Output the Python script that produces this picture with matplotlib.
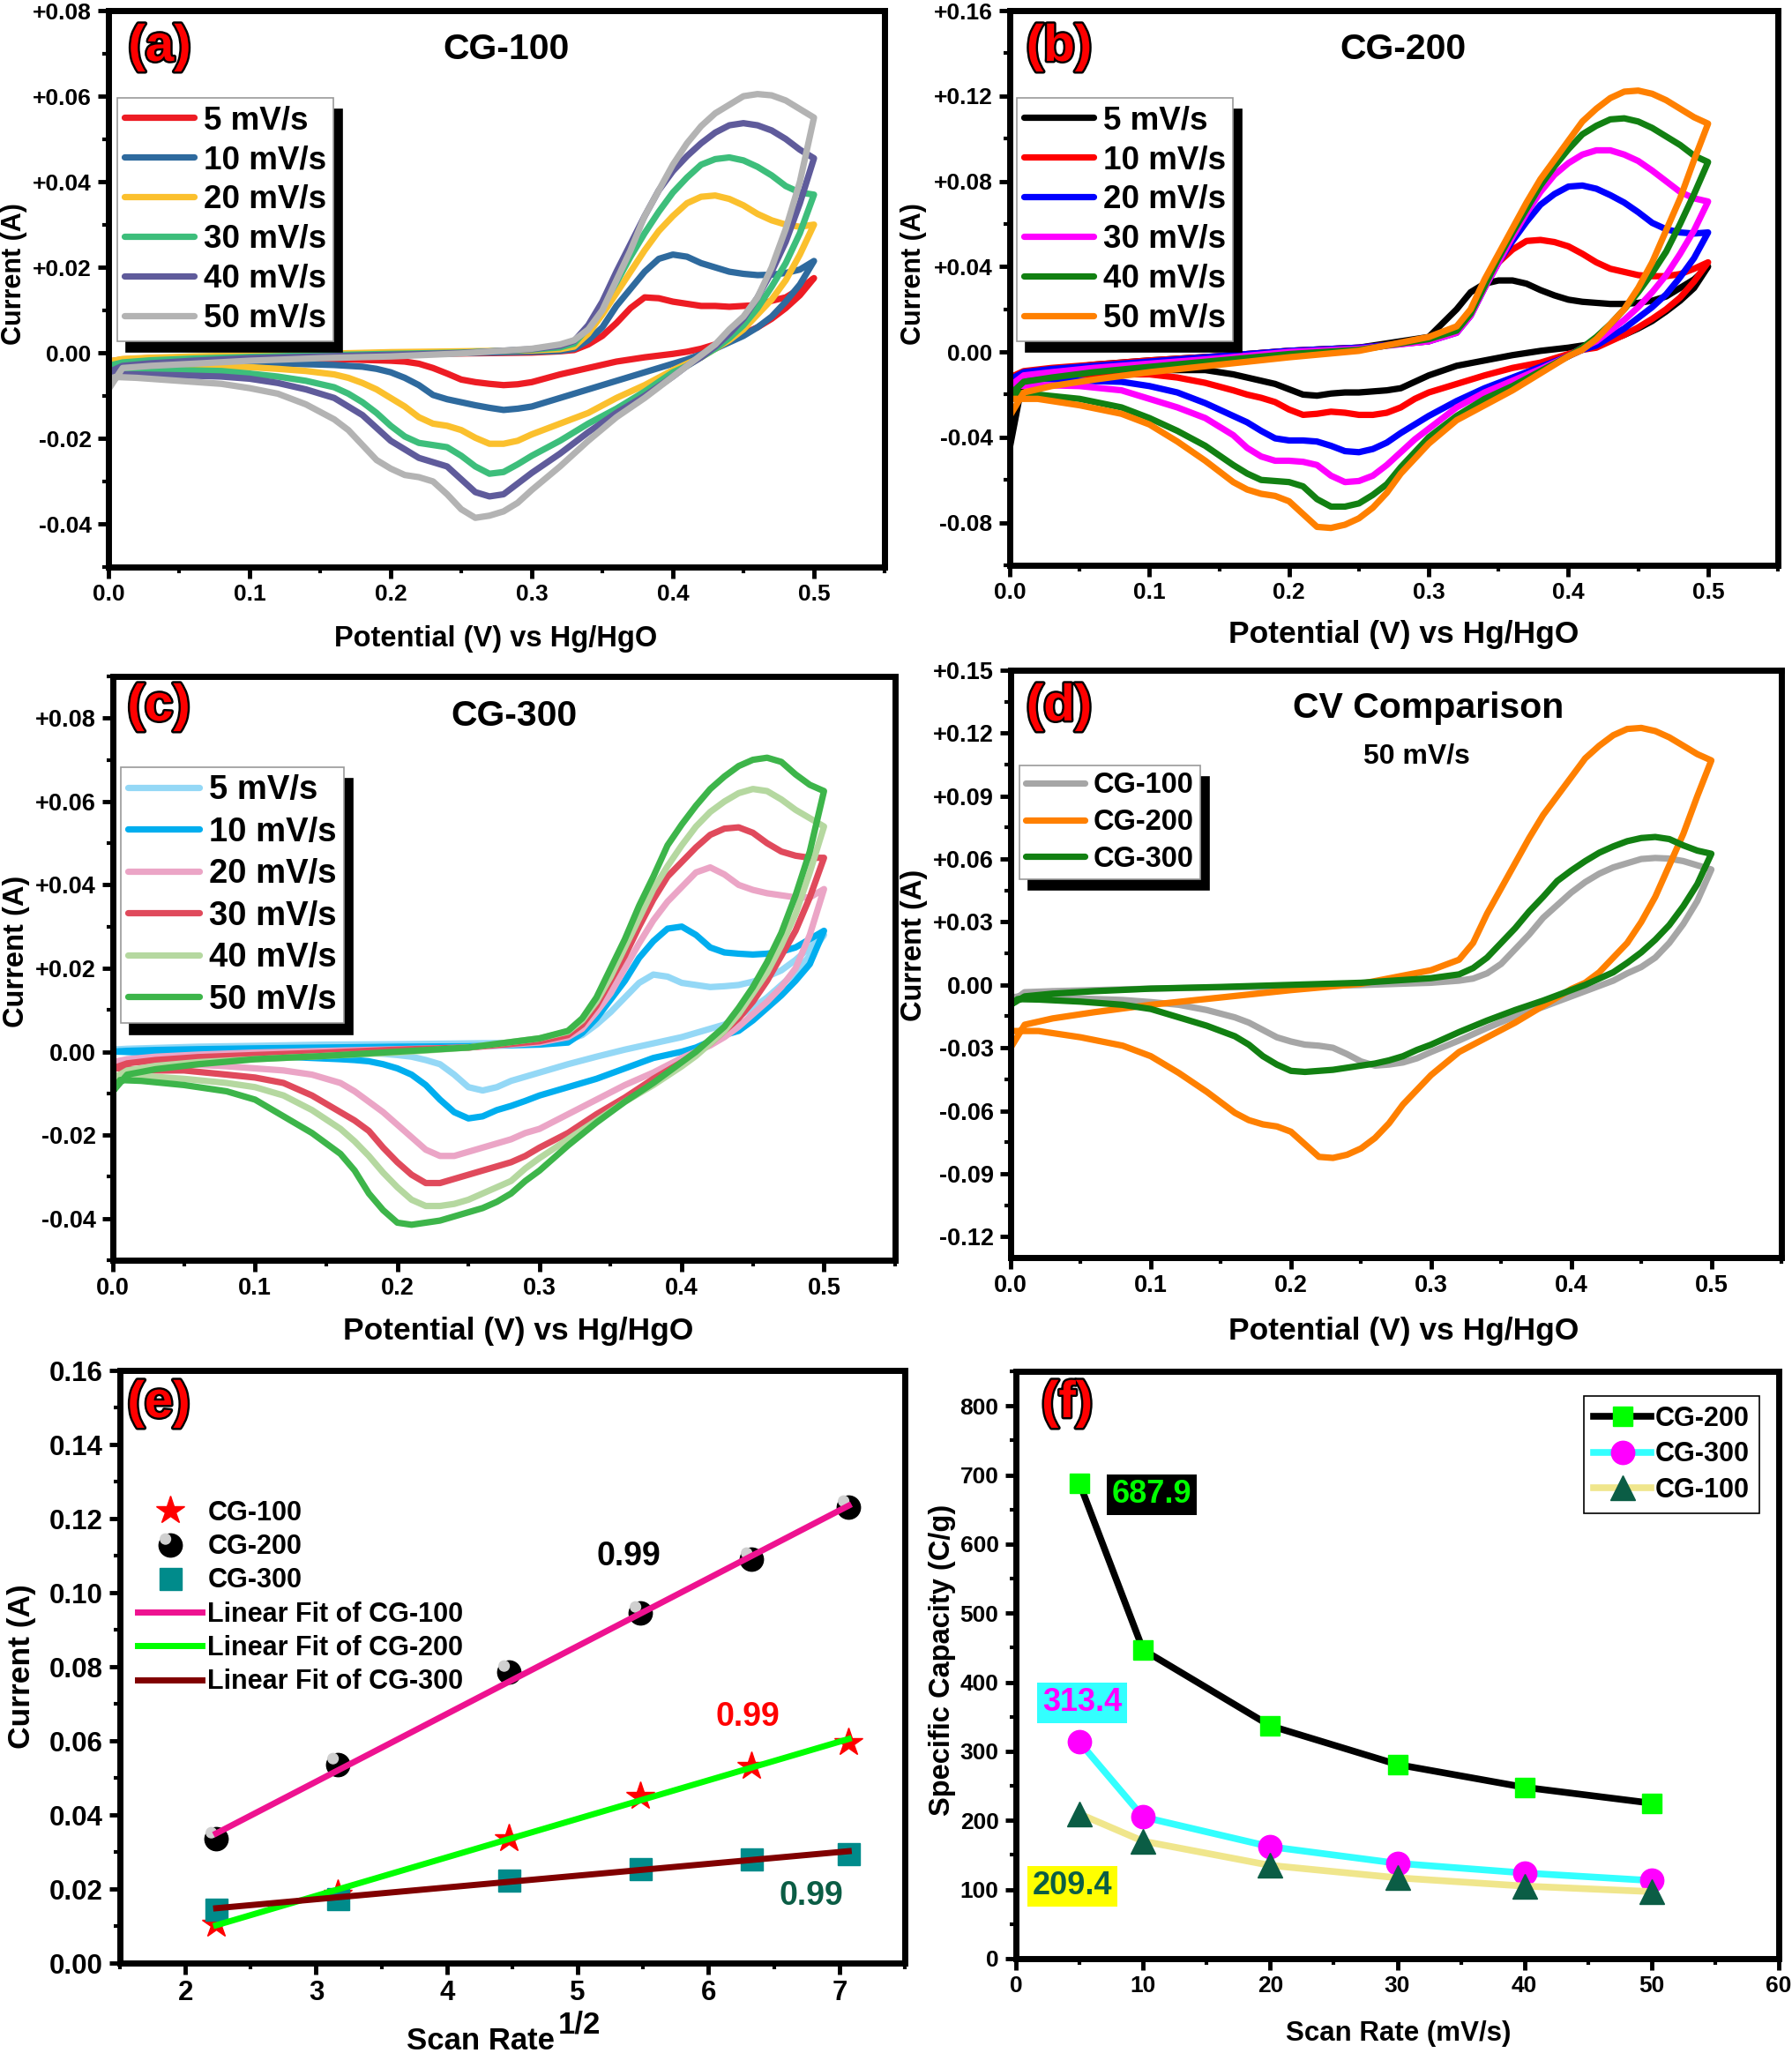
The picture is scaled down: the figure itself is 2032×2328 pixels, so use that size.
import matplotlib
matplotlib.use("Agg")
import matplotlib.pyplot as plt
import matplotlib.patheffects as pe
from matplotlib.legend_handler import HandlerTuple
from matplotlib.path import Path
from matplotlib.ticker import FuncFormatter, MultipleLocator

W, H = 2032, 2328

# potential grids of the two branches of every CV loop
x_up = [0, .01, .03, .06, .1, .15, .2, .25, .3, .32, .33, .34, .35, .36, .37, .38, .39, .40, .41, .42, .43, .44, .45, .46, .47, .48, .49, .50]
x_dn = [.5, .49, .48, .47, .46, .45, .44, .43, .42, .41, .40, .38, .36, .34, .32, .30, .29, .28, .27, .26, .25, .24, .23, .22, .21, .20, .19, .18, .17, .16, .14, .12, .10, .08, .05, .02, .005, 0]

# CG-100
a5_up = [-.002, -.0015, -.0012, -.001, -.0008, -.0005, -.0003, -.0001, .0001, .0004, .0007, .002, .004, .007, .0105, .013, .0128, .012, .0115, .011, .011, .0108, .011, .0112, .0122, .013, .015, .0175]
a5_dn = [.0175, .0135, .0105, .008, .006, .0045, .003, .002, .001, .0003, -.0002, -.001, -.002, -.0035, -.005, -.0068, -.0073, -.0075, -.0072, -.0068, -.0062, -.0048, -.0035, -.0025, -.002, -.0018, -.0017, -.0016, -.0015, -.0015, -.0014, -.0013, -.0012, -.0012, -.0012, -.0015, -.002, -.002]
a10_up = [-.0022, -.0017, -.0013, -.001, -.0008, -.0005, -.0002, 0, .0003, .0005, .001, .003, .006, .011, .015, .019, .022, .023, .0225, .021, .02, .019, .0185, .0182, .0183, .0187, .0195, .0215]
a10_dn = [.0215, .016, .012, .0085, .006, .004, .0025, .001, -.0003, -.0015, -.0025, -.0045, -.0065, -.0085, -.0105, -.0125, -.013, -.0133, -.0128, -.0122, -.0115, -.0108, -.0098, -.0075, -.0058, -.0045, -.0037, -.0032, -.003, -.0028, -.0026, -.0025, -.0025, -.0024, -.0024, -.0026, -.003, -.0032]
a20_up = [-.002, -.0014, -.0011, -.0008, -.0005, -.0002, .0002, .0004, .0006, .0009, .0015, .0045, .009, .014, .019, .024, .0285, .032, .035, .0365, .0368, .036, .0345, .0325, .031, .03, .0295, .03]
a20_dn = [.03, .023, .017, .0125, .009, .0055, .003, .001, -.001, -.0025, -.004, -.0075, -.0105, -.014, -.0165, -.019, -.0205, -.0212, -.0212, -.0198, -.018, -.017, -.0165, -.015, -.0125, -.0105, -.0085, -.007, -.0058, -.005, -.0042, -.0037, -.0033, -.0032, -.003, -.003, -.003, -.0025]
a30_up = [-.003, -.0022, -.0017, -.0013, -.0009, -.0005, -.0002, .0001, .0008, .0013, .0022, .006, .011, .0165, .0225, .028, .033, .0375, .041, .044, .0453, .0457, .045, .0435, .0415, .039, .0375, .037]
a30_dn = [.037, .028, .021, .0155, .0105, .0065, .0035, .001, -.001, -.003, -.0045, -.009, -.013, -.0165, -.0205, -.024, -.026, -.0278, -.0282, -.0265, -.024, -.022, -.0215, -.021, -.0195, -.017, -.014, -.0115, -.0095, -.008, -.0065, -.0055, -.0048, -.0042, -.004, -.0042, -.0045, -.004]
a40_up = [-.0045, -.003, -.0024, -.0018, -.0012, -.0008, -.0004, 0, .0009, .0017, .0028, .0065, .012, .019, .0255, .032, .038, .0425, .046, .049, .0515, .0532, .0537, .0532, .052, .05, .0475, .0455]
a40_dn = [.0455, .035, .026, .019, .013, .008, .0045, .0015, -.001, -.003, -.0055, -.01, -.014, -.0185, -.0235, -.028, -.0305, -.033, -.0335, -.0325, -.0295, -.0265, -.0255, -.0245, -.0225, -.0205, -.0175, -.0145, -.0125, -.0105, -.0085, -.007, -.006, -.0055, -.0052, -.005, -.005, -.0045]
a50_up = [-.0085, -.0035, -.003, -.0025, -.0018, -.0012, -.0008, -.0001, .001, .002, .003, .0055, .01, .017, .024, .032, .038, .044, .049, .053, .056, .058, .06, .0605, .0602, .059, .057, .055]
a50_dn = [.055, .04, .029, .02, .013, .0085, .0055, .002, -.0005, -.003, -.0055, -.0105, -.015, -.0205, -.0265, -.032, -.035, -.037, -.038, -.0385, -.0365, -.033, -.03, -.029, -.0285, -.027, -.025, -.0215, -.018, -.0155, -.012, -.0095, -.0082, -.0072, -.0065, -.0058, -.0056, -.006]

# CG-200
b5_up = [-.045, -.011, -.0085, -.006, -.004, -.002, .0005, .002, .007, .02, .028, .032, .0335, .0335, .032, .029, .0265, .0245, .0235, .023, .0225, .0225, .023, .024, .026, .03, .034, .04]
b5_dn = [.04, .03, .024, .019, .0145, .011, .008, .0055, .004, .003, .002, .0005, -.0015, -.004, -.0065, -.011, -.014, -.017, -.018, -.0185, -.019, -.019, -.0195, -.0205, -.02, -.0175, -.015, -.0135, -.012, -.0105, -.0085, -.0085, -.0085, -.009, -.01, -.011, -.012, -.012]
b10_up = [-.012, -.009, -.0075, -.006, -.004, -.002, .0005, .002, .005, .01, .018, .032, .042, .048, .052, .0525, .0515, .0495, .046, .042, .039, .0375, .036, .0355, .0355, .0365, .039, .042]
b10_dn = [.042, .033, .0255, .02, .0155, .0115, .008, .005, .002, .001, -.001, -.005, -.0075, -.011, -.015, -.019, -.022, -.026, -.0285, -.0295, -.0295, -.0285, -.028, -.029, -.0295, -.027, -.0235, -.0215, -.02, -.018, -.0145, -.012, -.0105, -.0105, -.0105, -.011, -.012, -.012]
b20_up = [-.013, -.0095, -.008, -.0065, -.0045, -.002, .0005, .002, .005, .009, .017, .03, .042, .052, .061, .069, .074, .0775, .078, .0765, .0735, .07, .0655, .0605, .0575, .056, .0555, .056]
b20_dn = [.056, .044, .035, .027, .021, .016, .011, .007, .003, .001, -.002, -.007, -.012, -.017, -.023, -.03, -.034, -.038, -.0425, -.0455, -.047, -.0465, -.044, -.042, -.0415, -.0415, -.0405, -.037, -.033, -.03, -.024, -.019, -.016, -.014, -.0135, -.0125, -.012, -.012]
b30_up = [-.016, -.011, -.0095, -.0075, -.0055, -.003, 0, .0015, .005, .009, .017, .03, .042, .054, .065, .075, .083, .0885, .0925, .0945, .0945, .0925, .0895, .085, .08, .075, .072, .0705]
b30_dn = [.0705, .057, .046, .036, .028, .021, .015, .01, .005, .002, -.002, -.008, -.0135, -.019, -.026, -.036, -.041, -.047, -.053, -.058, -.0605, -.061, -.058, -.053, -.0515, -.051, -.051, -.049, -.045, -.039, -.031, -.026, -.022, -.018, -.016, -.0155, -.016, -.016]
b40_up = [-.02, -.014, -.012, -.0095, -.007, -.004, -.001, .001, .006, .01, .018, .031, .044, .056, .067, .078, .087, .095, .102, .106, .109, .1095, .108, .105, .101, .097, .092, .089]
b40_dn = [.089, .074, .06, .047, .037, .028, .02, .013, .007, .002, -.002, -.009, -.016, -.022, -.03, -.04, -.047, -.054, -.062, -.067, -.071, -.0725, -.0725, -.069, -.063, -.061, -.0605, -.06, -.057, -.053, -.044, -.037, -.031, -.026, -.022, -.02, -.019, -.02]
b50_up = [-.03, -.019, -.016, -.013, -.0095, -.006, -.0025, .0005, .007, .012, .02, .034, .046, .058, .07, .081, .09, .099, .108, .114, .119, .122, .1225, .121, .118, .114, .11, .107]
b50_dn = [.107, .09, .072, .057, .042, .03, .02, .013, .006, .001, -.002, -.01, -.018, -.025, -.032, -.043, -.05, -.057, -.066, -.073, -.078, -.081, -.0825, -.082, -.076, -.07, -.0675, -.0665, -.0645, -.061, -.051, -.042, -.034, -.029, -.025, -.022, -.022, -.022]

# CG-300
c5_up = [.0005, .0007, .0009, .0012, .0014, .0017, .0018, .002, .0022, .0028, .004, .0065, .0095, .013, .0165, .0185, .018, .0165, .016, .0155, .0157, .016, .0168, .018, .0195, .022, .025, .028]
c5_dn = [.028, .023, .019, .016, .013, .0105, .0085, .0065, .0055, .0045, .0035, .002, .0005, -.0012, -.003, -.005, -.006, -.007, -.0085, -.0093, -.0085, -.0055, -.003, -.002, -.0012, -.0008, -.0005, -.0003, -.0002, -.0002, 0, 0, 0, .0001, .0002, .0003, .0004, .0005]
c10_up = [0, .0002, .0004, .0006, .0008, .001, .0012, .0013, .0017, .0022, .0045, .008, .0125, .017, .0225, .0265, .0295, .03, .028, .025, .0238, .0235, .0233, .0235, .024, .025, .027, .029]
c10_dn = [.029, .021, .017, .0135, .0105, .0075, .005, .004, .0025, .001, 0, -.0015, -.004, -.0065, -.0085, -.0105, -.0118, -.013, -.014, -.0155, -.016, -.0145, -.0115, -.008, -.0055, -.004, -.003, -.0023, -.002, -.0018, -.0015, -.0012, -.001, -.0008, -.0005, -.0002, 0, 0]
c20_up = [-.0025, -.0018, -.0012, -.0007, -.0002, .0002, .0006, .001, .0022, .0035, .0055, .0095, .014, .02, .026, .0315, .036, .0395, .043, .0442, .0425, .04, .0388, .038, .0375, .037, .037, .039]
c20_dn = [.039, .028, .02, .0155, .012, .009, .006, .0035, .0015, 0, -.0015, -.005, -.008, -.0115, -.015, -.0185, -.0195, -.021, -.022, -.023, -.024, -.025, -.025, -.0235, -.0205, -.0175, -.0145, -.012, -.0095, -.0075, -.0055, -.0045, -.004, -.0035, -.003, -.0025, -.0025, -.0025]
c30_up = [-.004, -.0028, -.002, -.0013, -.0008, -.0002, .0005, .001, .0025, .004, .0065, .011, .017, .023, .03, .0365, .042, .0455, .049, .052, .0535, .0538, .0525, .05, .048, .047, .0465, .0465]
c30_dn = [.0465, .037, .029, .023, .017, .012, .008, .005, .002, -.0005, -.0025, -.0065, -.011, -.015, -.0195, -.023, -.025, -.0265, -.0275, -.0285, -.0295, -.0305, -.0315, -.0315, -.0295, -.0265, -.023, -.019, -.0165, -.0145, -.0105, -.0075, -.0062, -.0055, -.0045, -.0045, -.004, -.004]
c40_up = [-.0065, -.0045, -.0034, -.0025, -.0018, -.001, -.0002, .001, .0032, .0048, .0075, .012, .018, .025, .032, .039, .0445, .0495, .054, .0575, .06, .062, .063, .0625, .0605, .058, .056, .054]
c40_dn = [.054, .043, .033, .0255, .019, .014, .009, .005, .002, -.001, -.0035, -.008, -.012, -.0165, -.021, -.0255, -.028, -.031, -.0325, -.034, -.0355, -.0365, -.037, -.037, -.0355, -.0325, -.029, -.025, -.0215, -.0185, -.014, -.0105, -.0085, -.0075, -.0065, -.0058, -.0055, -.0065]
c50_up = [-.0095, -.0055, -.0042, -.003, -.0018, -.001, 0, .001, .0032, .005, .008, .013, .02, .027, .035, .042, .0495, .0545, .059, .063, .066, .0685, .07, .0705, .0695, .0665, .064, .0625]
c50_dn = [.0625, .048, .0375, .0285, .0215, .0155, .0105, .006, .003, 0, -.0025, -.0075, -.012, -.017, -.0225, -.0285, -.031, -.034, -.036, -.0375, -.0385, -.0395, -.0405, -.041, -.0415, -.041, -.038, -.034, -.0285, -.0245, -.0195, -.0155, -.0115, -.0095, -.008, -.007, -.0068, -.0095]

rate_labels = ['5 mV/s', '10 mV/s', '20 mV/s', '30 mV/s', '40 mV/s', '50 mV/s']
a_colors = ['#ED1C24', '#2E6A9E', '#FBC02D', '#3DBE7B', '#5F5B9B', '#B3B3B3']
b_colors = ['#000000', '#FF0000', '#0000FF', '#FF00FF', '#128012', '#FF8000']
c_colors = ['#94D8F6', '#00AEEF', '#EBA5C6', '#E04A5C', '#B5D8A0', '#3DB54A']

# panel e
sqrt_rate = [2.236, 3.162, 4.472, 5.477, 6.325, 7.071]
e_cg100 = [.0105, .0185, .0335, .045, .053, .0595]
e_cg200 = [.0335, .0535, .0785, .0945, .109, .123]
e_cg300 = [.0145, .0175, .0225, .0255, .028, .0295]
fit_x = [2.236, 7.071]
fit_cg100 = [.035, .1235]
fit_cg200 = [.0102, .0605]
fit_cg300 = [.0148, .0302]

# panel f
scan_rate = [5, 10, 20, 30, 40, 50]
f_cg200 = [687.9, 447, 337, 281, 248, 225]
f_cg300 = [313.4, 205, 162, 138, 124, 113]
f_cg100 = [209.4, 170, 135, 117, 105, 97]

plt.rcParams['font.family'] = ['Liberation Sans', 'DejaVu Sans']
plt.rcParams['font.weight'] = 'bold'
plt.rcParams['axes.labelweight'] = 'bold'

fig = plt.figure(figsize=(W / 100, H / 100), dpi=100, facecolor='white')


def make_axes(left, right, top, bottom, ticksize=19):
    ax = fig.add_axes([left / W, 1 - bottom / H, (right - left) / W, (bottom - top) / H])
    ax.box = (left, right, top, bottom)
    for s in ax.spines.values():
        s.set_linewidth(5)
    ax.tick_params(which='major', direction='out', length=9, width=3.5, labelsize=ticksize, pad=5)
    ax.tick_params(which='minor', direction='out', length=5, width=3)
    return ax


def put(x, y, s, **kw):
    kw.setdefault('ha', 'center')
    kw.setdefault('va', 'center')
    return fig.text(x / W, 1 - y / H, s, **kw)


def panel_tag(x, y, s):
    t = put(x, y, s, fontsize=42, color='#FF0000')
    t.set_path_effects([pe.withStroke(linewidth=3.5, foreground='black')])


def labels(ax, xl, xl_px, yl, yl_px, xlsize=23.5, ylsize=21.5):
    left, right, top, bottom = ax.box
    ax.set_xlabel(xl, fontsize=xlsize)
    ax.set_ylabel(yl, fontsize=ylsize)
    ax.xaxis.set_label_coords((xl_px[0] - left) / (right - left), (bottom - xl_px[1]) / (bottom - top))
    ax.yaxis.set_label_coords((yl_px[0] - left) / (right - left), (bottom - yl_px[1]) / (bottom - top))
    ax.xaxis.label.set_verticalalignment('center')
    ax.yaxis.label.set_verticalalignment('center')


def cv_legend(ax, box, size, spacing, hl):
    left, right, top, bottom = ax.box
    leg = ax.legend(loc='upper left', fontsize=size, frameon=True, fancybox=False,
                    framealpha=1, edgecolor='#999999', borderaxespad=0, borderpad=0.22,
                    labelspacing=spacing, handlelength=hl, handletextpad=0.3,
                    bbox_to_anchor=((box[0] - left) / (right - left), (bottom - box[1]) / (bottom - top)),
                    shadow={'color': 'black', 'alpha': 1, 'ox': 7, 'oy': -9})
    leg.get_frame().set_linewidth(1.2)
    return leg


signed = FuncFormatter(lambda v, p: '0.00' if abs(v) < 1e-9 else f'{v:+.2f}')


def cv_axes(box, ylim, ymajor, series, colors, names, ticksize=19):
    ax = make_axes(*box, ticksize=ticksize)
    for (up, dn), c, name in zip(series, colors, names):
        ax.plot(x_up + x_dn, up + dn, color=c, lw=5.2, label=name, solid_joinstyle='round', solid_capstyle='round')
    ax.set_xlim(0, 0.55)
    ax.set_ylim(*ylim)
    ax.xaxis.set_major_locator(MultipleLocator(0.1))
    ax.xaxis.set_minor_locator(MultipleLocator(0.05))
    ax.yaxis.set_major_locator(MultipleLocator(ymajor))
    ax.yaxis.set_minor_locator(MultipleLocator(ymajor / 2))
    ax.yaxis.set_major_formatter(signed)
    return ax


xlab = 'Potential (V) vs Hg/HgO'

# (a)
ax = cv_axes((123, 1003, 12, 643), (-0.05, 0.08), 0.02,
             [(a5_up, a5_dn), (a10_up, a10_dn), (a20_up, a20_dn), (a30_up, a30_dn), (a40_up, a40_dn), (a50_up, a50_dn)],
             a_colors, rate_labels)
labels(ax, xlab, (562, 724), 'Current (A)', (16, 311), ylsize=22)
cv_legend(ax, (133, 111), 26.5, 0.27, 2.15)
put(574, 56, 'CG-100', fontsize=29.5)
panel_tag(181, 54, '(a)')

# (b)
ax = cv_axes((1145, 2016, 12, 641), (-0.10, 0.16), 0.04,
             [(b5_up, b5_dn), (b10_up, b10_dn), (b20_up, b20_dn), (b30_up, b30_dn), (b40_up, b40_dn), (b50_up, b50_dn)],
             b_colors, rate_labels)
labels(ax, xlab, (1592, 719), 'Current (A)', (1036, 311), xlsize=25.5, ylsize=22)
cv_legend(ax, (1153, 111), 26.5, 0.27, 2.15)
put(1591, 56, 'CG-200', fontsize=29.5)
panel_tag(1201, 54, '(b)')

# (c)
ax = cv_axes((128, 1015, 767, 1429), (-0.05, 0.09), 0.02,
             [(c5_up, c5_dn), (c10_up, c10_dn), (c20_up, c20_dn), (c30_up, c30_dn), (c40_up, c40_dn), (c50_up, c50_dn)],
             c_colors, rate_labels, ticksize=19.5)
labels(ax, xlab, (588, 1510), 'Current (A)', (19, 1079), xlsize=25.5, ylsize=23.5)
cv_legend(ax, (137, 870), 27.5, 0.3, 2.1)
put(583, 812, 'CG-300', fontsize=29.5)
panel_tag(180, 802, '(c)')

# (d)
ax = cv_axes((1146, 2020, 760, 1426), (-0.13, 0.15), 0.03,
             [(a50_up, a50_dn), (b50_up, b50_dn), (c50_up, c50_dn)],
             ['#A6A6A6', '#FF8000', '#128012'], ['CG-100', 'CG-200', 'CG-300'], ticksize=19.5)
labels(ax, xlab, (1592, 1510), 'Current (A)', (1037, 1072), xlsize=25.5, ylsize=23.5)
cv_legend(ax, (1156, 868), 23.5, 0.33, 2.05)
put(1620, 803, 'CV Comparison', fontsize=29.5)
put(1606, 857, '50 mV/s', fontsize=23)
panel_tag(1201, 802, '(d)')

# (e)
ax = make_axes(136, 1026, 1554, 2226, ticksize=22.5)
star, = ax.plot(sqrt_rate, e_cg100, '*', color='#FF0000', ms=24, ls='none')
ball, = ax.plot(sqrt_rate, e_cg200, 'o', color='black', ms=19, ls='none')
glint_path = Path.circle((-0.2, 0.25), 0.2)
glint, = ax.plot(sqrt_rate, e_cg200, marker=glint_path, color='#D0D0D0', ms=19, ls='none')
square, = ax.plot(sqrt_rate, e_cg300, 's', color='#008B8B', ms=18, ls='none')
l1, = ax.plot(fit_x, fit_cg100, color='#EE1290', lw=5)
l2, = ax.plot(fit_x, fit_cg200, color='#00FF00', lw=5)
l3, = ax.plot(fit_x, fit_cg300, color='#800000', lw=5)
ax.set_xlim(1.5, 7.5)
ax.set_ylim(0, 0.16)
ax.xaxis.set_major_locator(MultipleLocator(1))
ax.xaxis.set_minor_locator(MultipleLocator(0.5))
ax.yaxis.set_major_locator(MultipleLocator(0.02))
ax.yaxis.set_minor_locator(MultipleLocator(0.01))
ax.yaxis.set_major_formatter(FuncFormatter(lambda v, p: f'{v:.2f}'))
labels(ax, 'Scan Rate', (545, 2314), 'Current (A)', (25, 1890), xlsize=25, ylsize=25.5)
put(657, 2296, '1/2', fontsize=25)
ax.legend([star, (ball, glint), square, l1, l2, l3],
          ['CG-100', 'CG-200', 'CG-300', 'Linear Fit of CG-100', 'Linear Fit of CG-200', 'Linear Fit of CG-300'],
          handler_map={tuple: HandlerTuple(ndivide=1, pad=0)}, loc='upper left', frameon=False, fontsize=22,
          borderaxespad=0, borderpad=0, labelspacing=0.27, handlelength=2.4, handletextpad=0.2,
          bbox_to_anchor=(20 / 890, (2226 - 1701) / 672))
put(713, 1765, '0.99', fontsize=27, color='black')
put(848, 1947, '0.99', fontsize=27, color='#FF0000')
put(920, 2150, '0.99', fontsize=27, color='#0B5D45')
panel_tag(180, 1592, '(e)')

# (f)
ax = make_axes(1152, 2017, 1555, 2221)
ax.plot(scan_rate, f_cg200, color='black', lw=5.5, marker='s', ms=16, mfc='#00FF00', mec='#00FF00', label='CG-200')
ax.plot(scan_rate, f_cg300, color='#33FFFF', lw=5.5, marker='o', ms=19, mfc='#FF00FF', mec='#FF00FF', label='CG-300')
ax.plot(scan_rate, f_cg100, color='#F0E68C', lw=5.5, marker='^', ms=20, mfc='#0B5D45', mec='#0B5D45', label='CG-100')
ax.set_xlim(0, 60)
ax.set_ylim(0, 850)
ax.xaxis.set_major_locator(MultipleLocator(10))
ax.xaxis.set_minor_locator(MultipleLocator(5))
ax.yaxis.set_major_locator(MultipleLocator(100))
ax.yaxis.set_minor_locator(MultipleLocator(50))
labels(ax, 'Scan Rate (mV/s)', (1586, 2306), 'Specific Capacity (C/g)', (1069, 1882), xlsize=22.5, ylsize=23.5)
leg = ax.legend(loc='upper left', fontsize=22, frameon=True, fancybox=False, framealpha=1, edgecolor='black',
                borderaxespad=0, borderpad=0.35, labelspacing=0.35, handlelength=2.15, handletextpad=0.15,
                bbox_to_anchor=((1796 - 1152) / 865, (2221 - 1583) / 666))
leg.get_frame().set_linewidth(1.2)
put(1306, 1695, '687.9', fontsize=26, color='#00FF00', bbox=dict(fc='black', ec='none', pad=4))
put(1227, 1931, '313.4', fontsize=26, color='#FF00FF', bbox=dict(fc='#33FFFF', ec='none', pad=4))
put(1216, 2139, '209.4', fontsize=26, color='#0B5D45', bbox=dict(fc='#FFFF00', ec='none', pad=4))
panel_tag(1210, 1592, '(f)')

fig.savefig('out.png', dpi=100)
plt.close(fig)
